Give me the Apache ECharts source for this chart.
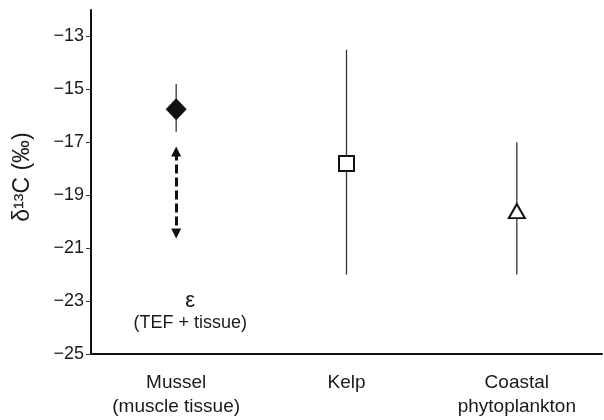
<!DOCTYPE html>
<html>
<head>
<meta charset="utf-8">
<script src="https://cdn.jsdelivr.net/npm/echarts@6/dist/echarts.min.js"></script>
<style>
  html, body { margin: 0; padding: 0; background: #fff; }
  #main { width: 604px; height: 420px; }
</style>
</head>
<body>
<div id="main"></div>
<script>
var myChart = echarts.init(document.getElementById('main'));

// categories and values
var categories = ['Mussel\n(muscle tissue)', 'Kelp', 'Coastal\nphytoplankton'];
var means = [-15.75, -17.8, -19.6];
var lows = [-16.6, -22.0, -22.0];
var highs = [-14.8, -13.5, -17.0];
var symbols = ['diamond', 'rect', 'triangle'];
var yTicks = [-25, -23, -21, -19, -17, -15, -13];
// dashed arrow (enrichment factor) on the mussel column
var arrowTop = -17.35;
var arrowBottom = -20.45;
var epsPos = -23.4;

var font = '"Liberation Sans", Arial, Helvetica, sans-serif';
var ink = '#1a1a1a';
var minus = function (v) { return String(v).replace('-', '\u2212'); };

var errData = [];
for (var i = 0; i < categories.length; i++) {
    errData.push([i, lows[i], highs[i]]);
}

var pointData = [];
for (var i = 0; i < categories.length; i++) {
    var s = {
        value: [i, means[i]],
        symbol: symbols[i],
        itemStyle: { color: '#fff', borderColor: '#111', borderWidth: 2, opacity: 1 }
    };
    if (symbols[i] == 'diamond') {
        s.symbolSize = [21, 22];
        s.itemStyle = { color: '#111', borderWidth: 0, opacity: 1 };
    } else if (symbols[i] == 'rect') {
        s.symbolSize = 15;
    } else {
        s.symbolSize = [16, 14];
    }
    pointData.push(s);
}

option = {
    animation: false,
    grid: { left: 91, right: 2, top: 10, bottom: 66 },
    xAxis: {
        type: 'category',
        data: categories,
        boundaryGap: true,
        axisLine: { lineStyle: { color: '#111', width: 2 } },
        axisTick: { length: 4, lineStyle: { color: '#555', width: 1 } },
        axisLabel: {
            color: ink,
            fontFamily: font,
            fontSize: 19,
            lineHeight: 24,
            margin: 17
        },
        splitLine: { show: false }
    },
    yAxis: {
        type: 'value',
        min: -25,
        max: -12,
        name: '\u03b4\u00b9\u00b3C (\u2030)',
        nameLocation: 'middle',
        nameRotate: 90,
        nameGap: 57,
        nameTextStyle: { color: ink, fontFamily: font, fontSize: 23, padding: [0, 0, 0, 10] },
        axisLine: { show: true, lineStyle: { color: '#111', width: 2 } },
        axisTick: {
            show: true, length: 5, inside: false,
            customValues: yTicks,
            lineStyle: { color: '#333', width: 1 }
        },
        axisLabel: {
            customValues: yTicks,
            color: ink,
            fontFamily: font,
            fontSize: 18,
            margin: 7,
            formatter: minus
        },
        splitLine: { show: false }
    },
    series: [
        {
            name: 'range',
            type: 'custom',
            data: errData,
            z: 1,
            renderItem: function (params, api) {
                var lo = api.coord([api.value(0), api.value(1)]);
                var hi = api.coord([api.value(0), api.value(2)]);
                return {
                    type: 'line',
                    shape: { x1: lo[0], y1: lo[1], x2: hi[0], y2: hi[1] },
                    style: { stroke: '#333', lineWidth: 1.3 }
                };
            },
            markLine: {
                silent: true,
                symbol: ['triangle', 'triangle'],
                symbolSize: [10, 10],
                label: { show: false },
                lineStyle: { color: '#111', width: 3, type: [9, 4], opacity: 1 },
                data: [[{ coord: [0, arrowTop] }, { coord: [0, arrowBottom] }]]
            }
        },
        {
            name: 'mean',
            type: 'scatter',
            z: 3,
            data: pointData
        },
        {
            name: 'eps',
            type: 'scatter',
            symbolSize: 0,
            z: 3,
            itemStyle: { opacity: 1 },
            data: [[0, epsPos]],
            label: {
                show: true,
                position: 'inside',
                offset: [14, 0],
                formatter: '{a|\u03b5}\n{b|(TEF + tissue)}',
                rich: {
                    a: { fontFamily: font, fontSize: 22, color: ink, lineHeight: 22, align: 'center' },
                    b: { fontFamily: font, fontSize: 18, color: ink, lineHeight: 22, align: 'center' }
                }
            }
        }
    ]
};

myChart.setOption(option);
</script>
</body>
</html>
